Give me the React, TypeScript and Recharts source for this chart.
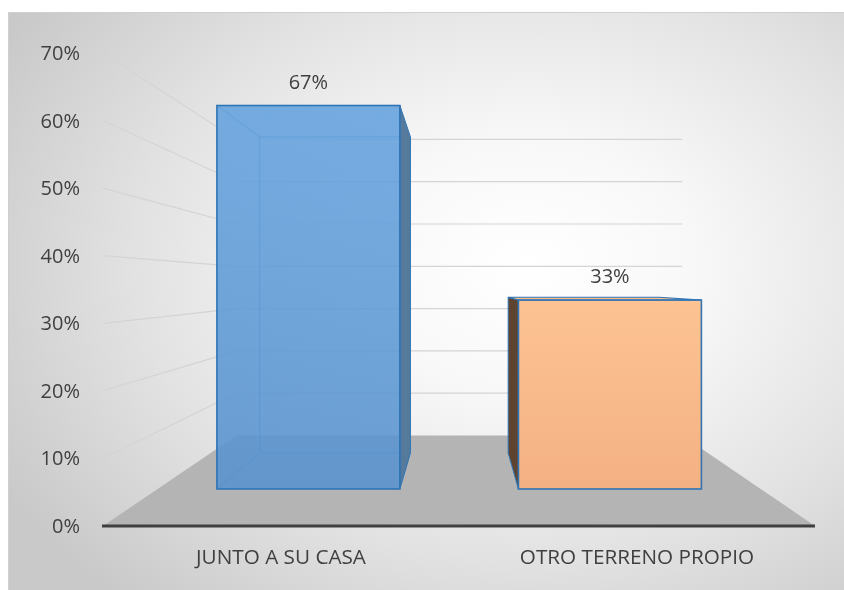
import React from 'react';
import { BarChart, Bar, XAxis, YAxis, CartesianGrid, LabelList } from 'recharts';

// Values
const categories = ['JUNTO A SU CASA', 'OTRO TERRENO PROPIO'];
const shares = [0.67, 0.33];
const yTicks = [0, 0.1, 0.2, 0.3, 0.4, 0.5, 0.6, 0.7];

const data = categories.map((name, i) => ({ name, value: shares[i] }));

const WIDTH = 836;
const HEIGHT = 578;
const FONT = '"Open Sans", "Liberation Sans", sans-serif';
const TEXT = '#404040';

// fake 3D: everything is drawn in the front plane by recharts, then pulled
// toward a vanishing point by a depth factor
const VP = { x: 452, y: 272 };
const FLOOR_DEPTH = 0.374;
const BAR_FRONT = 0.153;
const BAR_BACK = 0.302;

const project = (x: number, y: number, d: number): [number, number] => [
  x + d * (VP.x - x),
  y + d * (VP.y - y),
];
const pts = (...p: [number, number][]) => p.map(q => q.join(',')).join(' ');

const barStyles = [
  { id: 'blueFace', top: '#64a2de', bottom: '#5893cf', side: '#567a9c', lid: '#6aa6e0', opacity: 0.88 },
  { id: 'orangeFace', top: '#fdc393', bottom: '#f4b183', side: '#5e4331', lid: '#f9bb8b', opacity: 1 },
];

const fmt = (v: number) => `${Math.round(v * 100)}%`;

const GridLine = (props: any) => {
  const { x1, y1, x2, y, height, index } = props;
  const bottom = typeof y === 'number' && typeof height === 'number' ? y + height : 514;
  const back = project(x1, y1, FLOOR_DEPTH);
  const backRight = project(x2, y1, FLOOR_DEPTH);
  if (Math.abs(y1 - bottom) < 1) {
    return (
      <g key={`floor-${index}`}>
        <polygon points={pts([x1, y1], back, backRight, [x2, y1])} fill="#b4b4b4" />
        <line x1={x1 - 1} y1={y1} x2={x2} y2={y1} stroke="#404040" strokeWidth={3} />
      </g>
    );
  }
  return (
    <polyline
      key={`grid-${index}`}
      points={pts([x1, y1], back, backRight)}
      fill="none"
      stroke="#d4d4d4"
      strokeWidth={1.2}
    />
  );
};

const Box3D = (props: any) => {
  const { x, y, width, height, index } = props;
  const s = barStyles[index];
  const xl = x, xr = x + width, yt = y, yb = y + height;
  const FTL = project(xl, yt, BAR_FRONT), FTR = project(xr, yt, BAR_FRONT);
  const FBL = project(xl, yb, BAR_FRONT), FBR = project(xr, yb, BAR_FRONT);
  const BTL = project(xl, yt, BAR_BACK), BTR = project(xr, yt, BAR_BACK);
  const BBL = project(xl, yb, BAR_BACK), BBR = project(xr, yb, BAR_BACK);
  const edge = '#2e75b6';
  const hidden: [number, number][][] = [
    [FTL, BTL], [BTL, BTR], [BTL, BBL], [BBL, BBR], [FBL, BBL],
  ];
  return (
    <g>
      <defs>
        <linearGradient id={s.id} x1="0" y1="0" x2="0" y2="1">
          <stop offset="0%" stopColor={s.top} />
          <stop offset="100%" stopColor={s.bottom} />
        </linearGradient>
      </defs>
      {s.opacity < 1 &&
        hidden.map(([a, b], i) => (
          <line key={i} x1={a[0]} y1={a[1]} x2={b[0]} y2={b[1]} stroke={edge} strokeOpacity={0.55} strokeWidth={1.2} />
        ))}
      {FTR[0] < VP.x && (
        <polygon points={pts(FTR, BTR, BBR, FBR)} fill={s.side} stroke={edge} strokeWidth={1} strokeLinejoin="round" />
      )}
      {FTL[0] > VP.x && (
        <polygon points={pts(FTL, BTL, BBL, FBL)} fill={s.side} stroke={edge} strokeWidth={1} strokeLinejoin="round" />
      )}
      {FTL[1] > VP.y && (
        <polygon points={pts(FTL, FTR, BTR, BTL)} fill={s.lid} stroke={edge} strokeWidth={1.2} strokeLinejoin="round" />
      )}
      <rect
        x={FTL[0]}
        y={FTL[1]}
        width={FTR[0] - FTL[0]}
        height={FBL[1] - FTL[1]}
        fill={`url(#${s.id})`}
        fillOpacity={s.opacity}
        stroke={edge}
        strokeWidth={1.6}
      />
    </g>
  );
};

const ValueLabel = (props: any) => {
  const { x, y, width, value } = props;
  const [cx, cy] = project(x + width / 2, y, BAR_FRONT);
  return (
    <text x={cx} y={cy - 17} textAnchor="middle" fill={TEXT} fontSize={20} fontFamily={FONT}>
      {fmt(value)}
    </text>
  );
};

const YTick = (props: any) => {
  const { x, y, payload } = props;
  return (
    <text x={x - 23} y={y + 7} textAnchor="end" fill={TEXT} fontSize={20} fontFamily={FONT}>
      {fmt(payload.value)}
    </text>
  );
};

const XTick = (props: any) => {
  const { x, y, payload } = props;
  return (
    <text x={x} y={y + 38} textAnchor="middle" fill={TEXT} fontSize={20.7} fontFamily={FONT}>
      {payload.value}
    </text>
  );
};

export default function App() {
  return (
    <div
      style={{
        position: 'fixed',
        left: 8,
        top: 12,
        width: WIDTH,
        height: HEIGHT,
        background:
          'radial-gradient(ellipse 72% 78% at 62% 44%, #ffffff 0%, #f8f8f8 28%, #e2e2e2 65%, #c9c9c9 100%)',
        boxShadow: 'inset 1px 1px 0 #cfcfcf',
        fontFamily: FONT,
      }}
    >
      <BarChart
        width={WIDTH}
        height={HEIGHT}
        data={data}
        margin={{ top: 41, right: 29, left: 0, bottom: 0 }}
        barSize={216}
      >
        <CartesianGrid vertical={false} horizontal={GridLine} />
        <XAxis
          dataKey="name"
          axisLine={false}
          tickLine={false}
          tickSize={0}
          tickMargin={0}
          height={64}
          tick={XTick}
          interval={0}
        />
        <YAxis
          domain={[0, 0.7]}
          ticks={yTicks}
          axisLine={false}
          tickLine={false}
          tickSize={0}
          tickMargin={0}
          width={95}
          tick={YTick}
          interval={0}
        />
        <Bar dataKey="value" shape={Box3D} isAnimationActive={false}>
          <LabelList dataKey="value" content={ValueLabel} />
        </Bar>
      </BarChart>
    </div>
  );
}
